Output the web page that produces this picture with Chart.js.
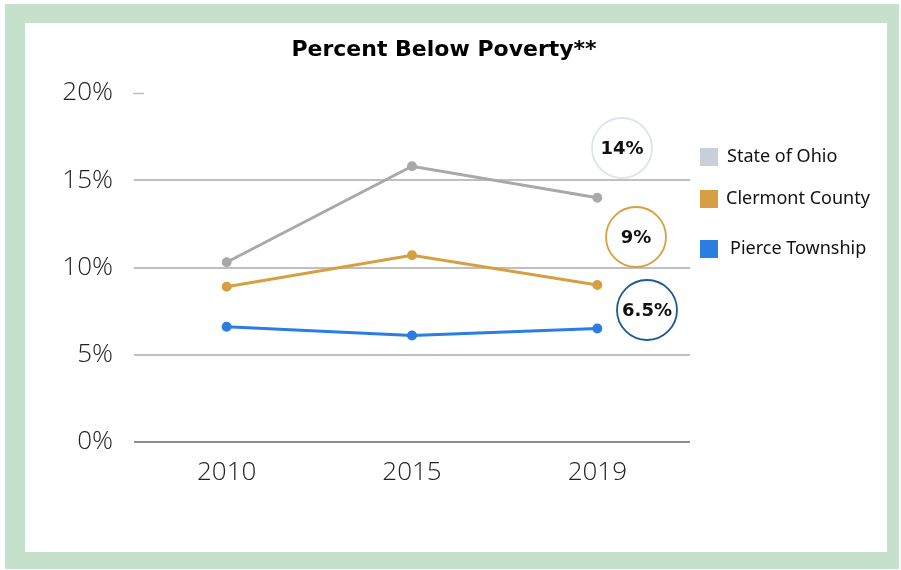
<!DOCTYPE html>
<html>
<head>
<meta charset="utf-8">
<script src="https://cdn.jsdelivr.net/npm/chart.js@4.4.1/dist/chart.umd.min.js"></script>
<style>
  html, body { margin: 0; padding: 0; background: #fff; }
  body { width: 901px; height: 570px; position: relative; overflow: hidden; }
  .frame { position: absolute; left: 5px; top: 4px; width: 894px; height: 565px; background: #c5e1cb; }
  .panel { position: absolute; left: 25px; top: 23px; width: 862px; height: 529px; background: #fff; }
</style>
</head>
<body>
<div class="frame"></div>
<div class="panel"><canvas id="povertyChart" width="862" height="529"></canvas></div>
<script>
const years = ['2010', '2015', '2019'];
const seriesNames = ['State of Ohio', 'Clermont County', 'Pierce Township'];
const ohioValues = [10.3, 15.8, 14.0];
const clermontValues = [8.9, 10.7, 9.0];
const pierceValues = [6.6, 6.1, 6.5];
const yTicks = [0, 5, 10, 15, 20];
const chartTitle = 'Percent Below Poverty**';

const lineColors = ['#a9a9a9', '#d6a042', '#2a7de1'];
const legendColors = ['#c9d0d9', '#d6a042', '#2a7de1'];
const ringColors = ['#dde4ea', '#d6a042', '#1b5b96'];

const ui = "'Noto Sans', 'DejaVu Sans', sans-serif";
const wide = "'DejaVu Sans', 'Noto Sans', sans-serif";
const light = "'Open Sans', 'Noto Sans', sans-serif";

// title, legend squares + text, and the ringed end-value badges
const extrasPlugin = {
  id: 'extras',
  afterDraw(chart) {
    const ctx = chart.ctx;
    const area = chart.chartArea;
    const yScale = chart.scales.y;
    ctx.save();

    ctx.fillStyle = '#000';
    ctx.font = 'bold 22px ' + wide;
    ctx.textAlign = 'center';
    ctx.textBaseline = 'middle';
    ctx.fillText(chartTitle, 419, 27);

    // short dash at the top tick
    ctx.strokeStyle = '#bfbfbf';
    ctx.lineWidth = 1.5;
    const y20 = Math.round(yScale.getPixelForValue(20)) + 0.5;
    ctx.beginPath();
    ctx.moveTo(area.left - 1, y20);
    ctx.lineTo(area.left + 10, y20);
    ctx.stroke();

    // legend
    const legendRows = [134, 176, 226];
    const textOffsets = [27, 26, 30];
    ctx.font = '18px ' + ui;
    ctx.textAlign = 'left';
    seriesNames.forEach((name, i) => {
      ctx.fillStyle = legendColors[i];
      ctx.fillRect(675, legendRows[i] - 9, 18, 18);
      ctx.fillStyle = '#111';
      ctx.fillText(name, 675 + textOffsets[i], legendRows[i]);
    });

    // value rings
    const lastVals = chart.data.datasets.map(ds => ds.data[ds.data.length - 1]);
    const rings = [[597, 125], [611, 214], [622, 287]];
    ctx.font = 'bold 18px ' + wide;
    ctx.textAlign = 'center';
    lastVals.forEach((v, i) => {
      const [cx, cy] = rings[i];
      ctx.beginPath();
      ctx.arc(cx, cy, 30, 0, Math.PI * 2);
      ctx.strokeStyle = ringColors[i];
      ctx.lineWidth = 1.8;
      ctx.stroke();
      ctx.fillStyle = '#111';
      ctx.fillText(v + '%', cx, cy + 1);
    });
    ctx.restore();
  }
};

const ctx = document.getElementById('povertyChart').getContext('2d');
new Chart(ctx, {
  type: 'line',
  data: {
    labels: years,
    datasets: [ohioValues, clermontValues, pierceValues].map((vals, i) => ({
      label: seriesNames[i],
      data: vals,
      borderColor: lineColors[i],
      backgroundColor: lineColors[i],
      borderWidth: 3,
      pointRadius: 3.5,
      pointHoverRadius: 3.5,
      tension: 0
    }))
  },
  options: {
    responsive: false,
    animation: false,
    layout: { padding: { left: 0, right: 197, top: 70, bottom: 0 } },
    plugins: {
      legend: { display: false },
      tooltip: { enabled: false },
      title: { display: false }
    },
    scales: {
      x: {
        offset: true,
        grid: { display: false },
        border: { display: false },
        ticks: { color: '#222', font: { family: light, size: 26, weight: 300 }, padding: 7 },
        afterFit(scale) { scale.height = 110; }
      },
      y: {
        min: 0,
        max: 20,
        afterBuildTicks(scale) { scale.ticks = yTicks.map(v => ({ value: v })); },
        grid: {
          drawTicks: false,
          lineWidth: 2,
          color: c => c.tick.value === 0 ? '#8c8c8c' : (c.tick.value === 20 ? 'rgba(0,0,0,0)' : '#bfbfbf')
        },
        border: { display: false },
        ticks: {
          color: '#222',
          padding: 21,
          font: { family: light, size: 26, weight: 300 },
          callback: v => v + '%'
        },
        afterFit(scale) { scale.width = 109; }
      }
    }
  },
  plugins: [extrasPlugin]
});
</script>
</body>
</html>
